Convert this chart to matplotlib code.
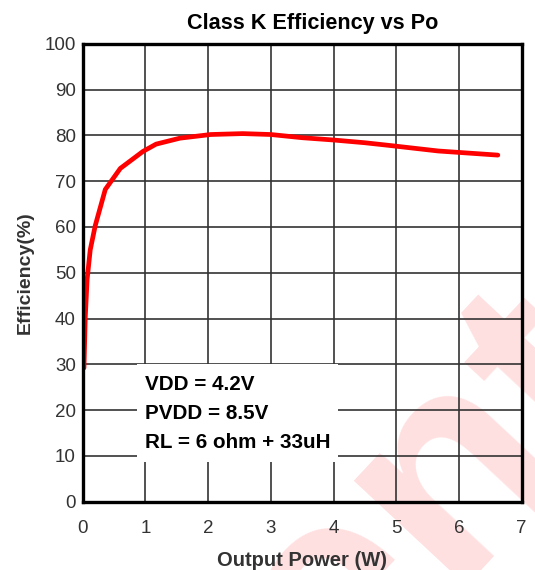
import matplotlib
matplotlib.use("Agg")
import matplotlib.pyplot as plt
from matplotlib.patches import Rectangle

plt.rcParams['font.family'] = ['Liberation Sans', 'DejaVu Sans']

# Data
power_w = [0.02, 0.04, 0.07, 0.12, 0.2, 0.36, 0.6, 0.96, 1.17, 1.55, 2.04, 2.55,
           3.0, 3.5, 4.0, 4.5, 4.9, 5.67, 6.62]
efficiency = [29.2, 40.0, 48.5, 55.0, 60.3, 68.2, 72.8, 76.5, 78.1, 79.4, 80.2, 80.4,
              80.2, 79.5, 79.0, 78.4, 77.8, 76.6, 75.7]
x_ticks = [0, 1, 2, 3, 4, 5, 6, 7]
y_ticks = [0, 10, 20, 30, 40, 50, 60, 70, 80, 90, 100]
notes = ["VDD = 4.2V", "PVDD = 8.5V", "RL = 6 ohm + 33uH"]

fig = plt.figure(figsize=(5.35, 5.7), dpi=100)
fig.patch.set_facecolor('white')

# watermark (behind everything)
fig.text(0.697, 0.0105, "dent", fontsize=210, fontweight='bold', color='#ffe0e0',
         rotation=47, ha='center', va='center', zorder=-5)

ax = fig.add_axes([0.1546, 0.120, 0.8205, 0.803])
ax.set_facecolor('none')
ax.set_xlim(0, 7)
ax.set_ylim(0, 100)
ax.set_xticks(x_ticks)
ax.set_yticks(y_ticks)
ax.grid(True, color='#333333', linewidth=1.2, zorder=1)
ax.set_axisbelow(True)
ax.tick_params(length=0, labelsize=13.5, labelcolor='#333333')
ax.tick_params(axis='x', pad=13)
ax.tick_params(axis='y', pad=5)
for s in ax.spines.values():
    s.set_linewidth(2.4)
    s.set_color('black')
    s.set_zorder(5)

# white box behind notes
ax.add_patch(Rectangle((0.86, 8.7), 3.21, 21.3, facecolor='white', edgecolor='none', zorder=2))
for i, t in enumerate(notes):
    ax.text(1.0, 24.3 - i * 6.3, t, fontsize=14.9, fontweight='bold', color='black',
            ha='left', va='baseline', zorder=3)

ax.plot(power_w, efficiency, color='#ff0000', linewidth=3.4, zorder=4, solid_capstyle='round')

ax.set_title("Class K Efficiency vs Po", fontsize=15.6, fontweight='bold', pad=11, x=0.525)
ax.set_xlabel("Output Power (W)", fontsize=14.5, fontweight='bold', color='#333333', labelpad=10)
ax.set_ylabel("Efficiency(%)", fontsize=14, fontweight='bold', color='#333333', labelpad=8)

fig.savefig("out.png", dpi=100, facecolor='white')
